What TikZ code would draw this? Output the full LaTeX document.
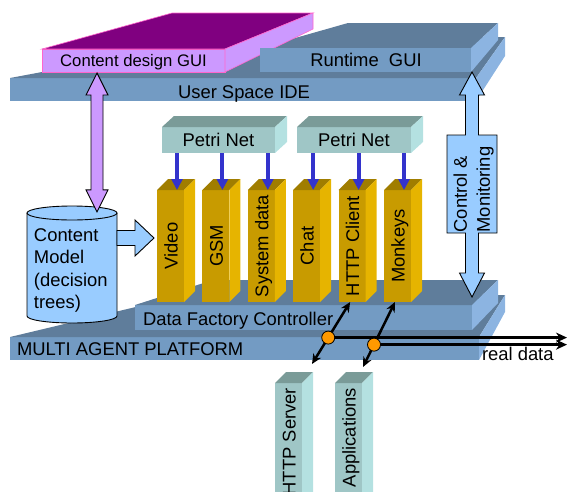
\documentclass[tikz,border=0pt]{standalone}
\usepackage{fontspec}
\setmainfont{Liberation Sans}
\usepackage{graphicx}
\usetikzlibrary{calc,arrows.meta}

\definecolor{slabTop}{HTML}{5F7D9B}
\definecolor{slabFront}{HTML}{739BC3}
\definecolor{slabSide}{HTML}{8CB4E1}
\definecolor{tealFront}{HTML}{9FC6C6}
\definecolor{tealTop}{HTML}{7A9B98}
\definecolor{tealSide}{HTML}{B4E1E1}
\definecolor{goldFront}{HTML}{C89B00}
\definecolor{goldSide}{HTML}{E6B400}
\definecolor{goldTop}{HTML}{A07D00}
\definecolor{lilac}{HTML}{CC99FF}
\definecolor{plum}{HTML}{800080}
\definecolor{pinkEdge}{HTML}{FF66CC}
\definecolor{skyFill}{HTML}{99CCFF}
\definecolor{petriBlue}{HTML}{3333CC}
\definecolor{junctionOrange}{HTML}{FF9900}

\tikzset{
  face/.style={inner sep=0, outer sep=0, anchor=north west, draw=none},
  slab/.style={face, fill=slabFront},
  tealbox/.style={face, fill=tealFront},
  goldbox/.style={face, fill=goldFront, minimum width=27, minimum height=112},
  lbl/.style={inner sep=0, outer sep=0, font=\fontsize{18.4}{23}\selectfont},
  vlbl/.style={lbl, rotate=90, anchor=base},
  petriarrow/.style={petriBlue, line width=4, -{Triangle[length=11pt,width=11pt]}},
  blockarrow/.style={fill=skyFill, draw=black, line width=0.9, line join=miter},
  blkarrow/.style={line width=2.5, {Stealth[length=10pt,width=9pt]}-{Stealth[length=10pt,width=9pt]}},
  rdarrow/.style={line width=3, -{Stealth[length=11pt,width=10pt]}},
  junction/.style={circle, fill=junctionOrange, draw=black, line width=0.8, minimum size=13, inner sep=0},
  guiedge/.style={draw=pinkEdge, line width=0.6},
}

% oblique top and side faces of a box node, depth vector #2
\newcommand\boxfaces[4]{%
  \fill[#3] (#1.north west) -- ($(#1.north west)+(#2)$) -- ($(#1.north east)+(#2)$) -- (#1.north east) -- cycle;
  \fill[#4] (#1.north east) -- ($(#1.north east)+(#2)$) -- ($(#1.south east)+(#2)$) -- (#1.south east) -- cycle;}

% vertical double-headed block arrow: top tip, bottom tip, shaft half width, head half width, head length, style
\newcommand\vdblarrow[6]{%
  \filldraw[#6] (#1) -- ++(#4,#5) -- ++(-#4+#3,0) -- ($(#2)+(#3,-#5)$) -- ++(#4-#3,0) -- (#2)
    -- ++(-#4,-#5) -- ++(#4-#3,0) -- ($(#1)+(-#3,#5)$) -- ++(-#4+#3,0) -- cycle;}

\begin{document}
\begin{tikzpicture}[x=1pt,y=-1pt]
\useasboundingbox (0,0) rectangle (568,491);
\clip (0,0) rectangle (568,491);

% ---- MULTI AGENT PLATFORM ----
\node[slab, minimum width=469, minimum height=23] (map) at (10,337) {};
\fill[slabTop] (map.north west) -- (186,295) -- (505,295) -- (map.north east) -- cycle;
\fill[slabSide] (map.north east) -- (505,295) -- (505,312) -- (map.south east) -- cycle;
\node[lbl, anchor=base west] (maplbl) at (17,355) {MULTI AGENT PLATFORM};

% ---- Data Factory Controller ----
\node[slab, minimum width=337, minimum height=25] (dfc) at (135,305) {};
\fill[slabTop] (dfc.north west) -- (213,280) -- (498,280) -- (dfc.north east) -- cycle;
\fill[slabSide] (dfc.north east) -- (498,280) -- (498,303) -- (dfc.south east) -- cycle;
\node[lbl, anchor=base west] (dfclbl) at (143,325) {Data Factory Controller};

% ---- data generator columns ----
\foreach \nm/\txt [count=\i from 0] in {video/Video, gsm/GSM, sysdata/System data, chat/Chat, httpc/HTTP Client, monkeys/Monkeys} {
  \node[goldbox] (\nm) at ({157+45.4*\i},190) {};
  \boxfaces{\nm}{11,-11}{goldTop}{goldSide}
  \node[vlbl] (\nm-lbl) at ([xshift=7]\nm.center) {\txt};
}

% ---- User Space IDE ----
\node[slab, minimum width=466, minimum height=23] (ide) at (10,78) {};
\fill[slabTop] (ide.north west) -- (213,40) -- (505,37) -- (ide.north east) -- cycle;
\fill[slabSide] (ide.north east) -- (505,37) -- (505,56) -- (ide.south east) -- cycle;
\node[lbl, anchor=base] (idelbl) at (244,98) {User Space IDE};

% ---- Runtime GUI (top and side) ----
\node[face, minimum width=211, minimum height=24] (rtgui) at (260,48) {};
\fill[slabTop] (rtgui.north west) -- (348,23) -- (498,23) -- (rtgui.north east) -- cycle;
\fill[slabSide] (rtgui.north east) -- (498,23) -- (498,40) -- (rtgui.south east) -- cycle;

% ---- Content design GUI ----
\node[face, fill=lilac, guiedge, minimum width=183, minimum height=23] (cdgui) at (42,49) {};
\filldraw[fill=plum, guiedge] (cdgui.north west) -- (172,13) -- (313,13) -- (cdgui.north east) -- cycle;
\filldraw[fill=lilac, guiedge] (cdgui.north east) -- (313,13) -- (313,29) -- (cdgui.south east) -- cycle;
\node[lbl, font=\fontsize{16.7}{20}\selectfont, anchor=base] (cdlbl) at (133.5,66.7) {Content design GUI};

% ---- Runtime GUI (front) ----
\fill[slabFront] (rtgui.north west) rectangle (rtgui.south east);
\node[lbl, anchor=base] (rtlbl) at (366,66.7) {Runtime\ \ GUI};

% ---- Petri nets ----
\node[tealbox, minimum width=113, minimum height=26] (petriA) at (162,127) {};
\boxfaces{petriA}{12,-11}{tealTop}{tealSide}
\node[lbl, anchor=base] (petriAlbl) at ([yshift=-6.7]petriA.center) {Petri Net};
\node[tealbox, minimum width=114, minimum height=26] (petriB) at (297,127) {};
\boxfaces{petriB}{12,-11}{tealTop}{tealSide}
\node[lbl, anchor=base] (petriBlbl) at ([yshift=-6.7]petriB.center) {Petri Net};

\foreach \c/\p in {video/petriA, gsm/petriA, sysdata/petriA, chat/petriB, httpc/petriB, monkeys/petriB}
  \draw[petriarrow] ([xshift=6.5]\c.north |- \p.south) -- ([xshift=6.5]\c.north);

% ---- Content Model store ----
\node[inner sep=0, minimum width=90, minimum height=117] (cmodel) at (72,264.5) {};
\fill[skyFill] (27,213) -- (27,316) arc[start angle=180, end angle=0, x radius=45, y radius=7]
  -- (117,213) arc[start angle=0, end angle=-180, x radius=45, y radius=7] -- cycle;
\draw[line width=0.9] (27,213) -- (27,316) arc[start angle=180, end angle=0, x radius=45, y radius=7] -- (117,213);
\draw[line width=0.9] (72,213) ellipse [x radius=45, y radius=7];
\node[lbl, font=\fontsize{18.4}{22.5}\selectfont, align=left, anchor=north west] (cmlbl) at (34,228.3)
  {Content\\Model\\(decision\\trees)};

% design GUI <-> content model
\coordinate (lilacTop) at ($(cdgui.south west)+(55,1)$);
\coordinate (lilacBot) at ($(cmodel.north)+(25,6)$);
\vdblarrow{lilacTop}{lilacBot}{6}{11}{22}{fill=lilac, draw=black, line width=0.9}

% content model feeds the generators
\coordinate (feedTail) at (117,238);
\coordinate (feedTip) at ($(video.west)+(-3,-8)$);
\filldraw[blockarrow] ($(feedTail)+(0,-7.5)$) -- ($(feedTip)+(-19,-7.5)$) -- ($(feedTip)+(-19,-18)$)
  -- (feedTip) -- ($(feedTip)+(-19,18)$) -- ($(feedTip)+(-19,7.5)$) -- ($(feedTail)+(0,7.5)$) -- cycle;

% ---- Control & Monitoring ----
\filldraw[blockarrow] (472,72) -- (484.5,95) -- (478.5,95) -- (478.5,135) -- (497,135) -- (497,233)
  -- (478.5,233) -- (478.5,273) -- (484.5,273) -- (472,297) -- (459.5,273) -- (465.5,273)
  -- (465.5,233) -- (447,233) -- (447,135) -- (465.5,135) -- (465.5,95) -- (459.5,95) -- cycle;
\node[lbl, rotate=90, align=left, anchor=west] (ctrllbl) at (473.5,232.5) {Control \&\\Monitoring};

% ---- external components ----
\node[tealbox, minimum width=27, minimum height=120] (https) at (275,383) {};
\boxfaces{https}{11,-11}{tealTop}{tealSide}
\node[lbl, rotate=90, anchor=base east] (httpslbl) at ($(https.north)+(7,5)$) {HTTP Server};
\node[tealbox, minimum width=27, minimum height=120] (apps) at (335,383) {};
\boxfaces{apps}{11,-11}{tealTop}{tealSide}
\node[lbl, rotate=90, anchor=base east] (appslbl) at ($(apps.north)+(7,5)$) {Applications};

% ---- data links ----
\coordinate (hcA) at ([xshift=-2]httpc.south);
\coordinate (hsA) at ($(https.north east)+(10,-19)$);
\coordinate (mkA) at ([xshift=-2.5]monkeys.south);
\coordinate (apA) at ($(apps.north east)+(1,-16)$);
\coordinate (j1c) at ($(hcA)!0.574!(hsA)$);
\coordinate (j2c) at ($(mkA)!0.656!(apA)$);
\coordinate (rdEnd) at (567,0);
\draw[blkarrow] (hcA) -- (hsA);
\draw[blkarrow] (mkA) -- (apA);
\draw[rdarrow] (j1c) -- (j1c -| rdEnd);
\draw[rdarrow] (j2c) -- (j2c -| rdEnd);
\node[junction] (j1) at (j1c) {};
\node[junction] (j2) at (j2c) {};
\node[lbl, anchor=base west] (rdlbl) at (482,360.7) {real data};
\end{tikzpicture}
\end{document}
